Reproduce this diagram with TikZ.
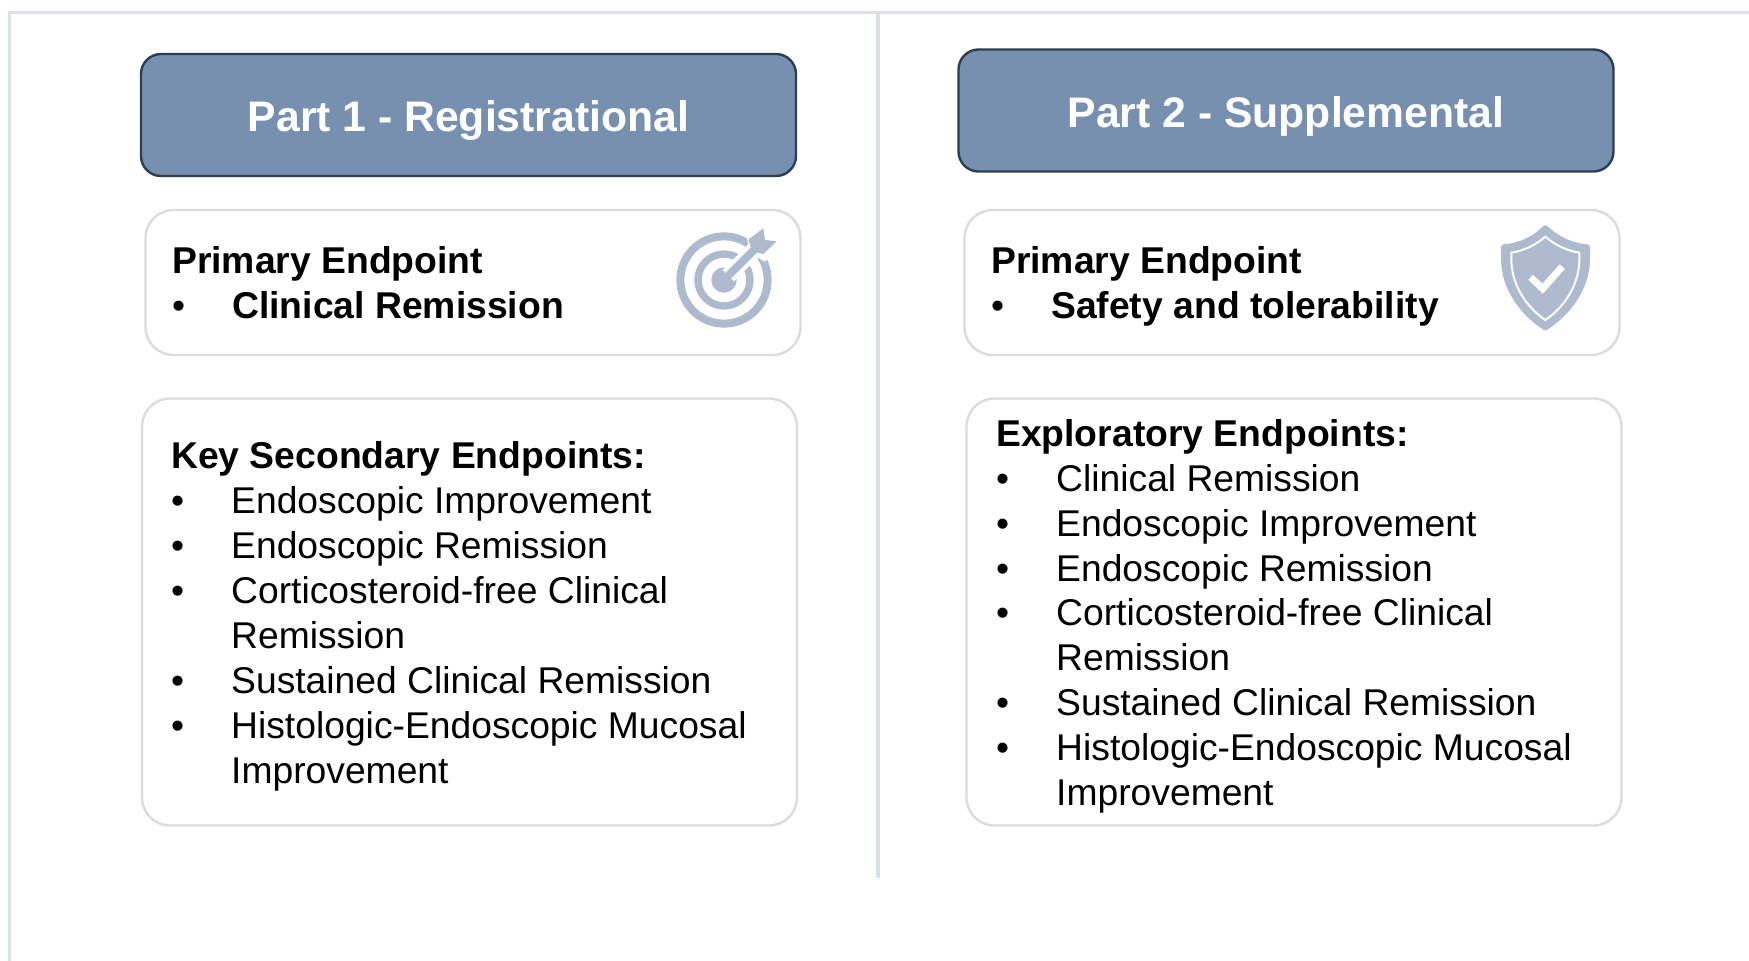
\documentclass[tikz,border=0pt]{standalone}
\usepackage{fontspec}
\setmainfont{Liberation Sans}
\definecolor{frameC}{HTML}{D9E1EA}
\definecolor{headFill}{HTML}{7890AF}
\definecolor{headLine}{HTML}{2E3E52}
\definecolor{boxLine}{HTML}{DCDCDC}
\definecolor{iconC}{HTML}{AEBBCE}
\tikzset{
  x=1pt,y=-1pt,
  headbox/.style={draw=headLine,line width=2.4pt,fill=headFill,rounded corners=20pt,minimum width=655pt,minimum height=122pt,inner sep=0pt},
  headtext/.style={inner sep=0pt,text=white,font=\fontsize{42.7}{47}\selectfont\bfseries},
  card/.style={draw=boxLine,line width=2.4pt,fill=white,rounded corners=28pt,inner sep=0pt},
  line/.style={anchor=base west,inner sep=0pt,font=\fontsize{37.25}{44}\selectfont},
  bline/.style={line,font=\fontsize{37.3}{44}\selectfont\bfseries},
  rule/.style={draw=frameC,line width=3pt},
}
\begin{document}
\begin{tikzpicture}
\useasboundingbox (0,0) rectangle (1749,961);
\coordinate (fa) at (9,961); \coordinate (fb) at (9,12); \coordinate (fc) at (1749,12);
\coordinate (da) at (878,12); \coordinate (db) at (878,878);
\draw[rule] (fa) -- (fb) -- (fc);
\draw[rule,line width=3.5pt] (da) -- (db);
\node[headbox] (h1) at (468.5,115) {};
\node[headbox] (h2) at (1286,110.5) {};
\node[headtext] (t1) at (468.5,120.5) {Part 1 - Registrational};
\node[headtext] (t2) at (1286,116) {Part 2 - Supplemental};
\node[card,minimum width=655pt,minimum height=145pt] (p1) at (473,282.5) {};
\node[card,minimum width=655pt,minimum height=145pt] (p2) at (1292,282.5) {};
\node[card,minimum width=655pt,minimum height=427pt] (s1) at (469.5,612) {};
\node[card,minimum width=655pt,minimum height=427pt] (s2) at (1294,612) {};
% left column
\node[bline] (a1) at (172,273) {Primary Endpoint};
\node[line] (a2b) at (172,318) {•};
\node[bline] (a2) at (232,318) {Clinical Remission};
\node[bline] (b0) at (171,468.5) {Key Secondary Endpoints:};
\foreach \n/\y/\t in {1/513.5/Endoscopic Improvement,2/558.5/Endoscopic Remission,3/603.5/Corticosteroid-free Clinical,5/693.5/Sustained Clinical Remission,6/738/Histologic-Endoscopic Mucosal}
  {\node[line] (bb\n) at (171,\y) {•}; \node[line] (b\n) at (231,\y) {\t};}
\node[line] (b4) at (231,648.5) {Remission};
\node[line] (b7) at (231,783) {Improvement};
% right column
\node[bline] (c1) at (991,273) {Primary Endpoint};
\node[line] (c2b) at (991,318) {•};
\node[bline] (c2) at (1051,318) {Safety and tolerability};
\node[bline] (d0) at (996,446) {Exploratory Endpoints:};
\foreach \n/\y/\t in {1/491.5/Clinical Remission,2/536.5/Endoscopic Improvement,3/581.5/Endoscopic Remission,4/625.5/Corticosteroid-free Clinical,6/715.5/Sustained Clinical Remission,7/760.5/Histologic-Endoscopic Mucosal}
  {\node[line] (dd\n) at (996,\y) {•}; \node[line] (d\n) at (1056,\y) {\t};}
\node[line] (d5) at (1056,670.5) {Remission};
\node[line] (d8) at (1056,805.5) {Improvement};
% target icon
\begin{scope}[shift={(650,210)},x=0.3333pt,y=-0.3333pt]
  \fill[iconC] (222,210) circle (38);
  \draw[iconC,line width=8pt] (222,210) circle (131);
  \draw[iconC,line width=7.4pt] (222,210) circle (78);
  \draw[white,line width=16pt] (235,197) -- (330,102);
  \fill[white] (290,75) -- (345,40) -- (395,90) -- (345,155) -- (300,130) -- cycle;
  \draw[iconC,line width=8pt] (225,207) -- (325,107);
  \fill[iconC] (296,88) -- (340,55) -- (345,90) -- (380,94) -- (340,132) -- (305,124) -- cycle;
\end{scope}
% shield icon
\begin{scope}[shift={(1470,210)},x=0.3333pt,y=-0.3333pt]
  \fill[iconC] (218,50) .. controls (222,44) and (230,44) .. (234,50)
    .. controls (268,82) and (310,100) .. (352,103)
    .. controls (358,104) and (360,108) .. (360,112)
    -- (360,150) .. controls (358,240) and (300,315) .. (232,359)
    .. controls (228,362) and (224,362) .. (220,359)
    .. controls (152,315) and (95,240) .. (93,150) -- (93,112)
    .. controls (93,108) and (95,104) .. (101,103)
    .. controls (143,100) and (186,82) .. (218,50) -- cycle;
  \draw[white,line width=2pt] (226,80) .. controls (255,105) and (290,122) .. (328,128)
    -- (328,155) .. controls (325,225) and (285,290) .. (226,330)
    .. controls (167,290) and (127,225) .. (124,155) -- (124,128)
    .. controls (162,122) and (197,105) .. (226,80) -- cycle;
  \draw[white,line width=7pt] (182,202) -- (218,236) -- (277,170);
\end{scope}
\end{tikzpicture}
\end{document}
